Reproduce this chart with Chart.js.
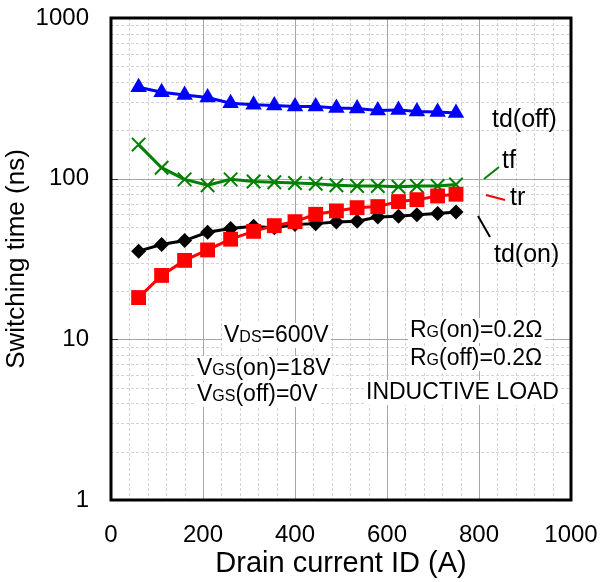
<!DOCTYPE html>
<html>
<head>
<meta charset="utf-8">
<script src="https://cdn.jsdelivr.net/npm/chart.js@4/dist/chart.umd.min.js"></script>
<style>
html,body{margin:0;padding:0;background:#fff;}
#wrap{width:602px;height:582px;position:relative;}
</style>
</head>
<body>
<div id="wrap"><canvas id="c" width="602" height="582"></canvas></div>
<script>
const drainCurrent = [60,110,160,210,260,310,355,400,445,490,535,580,625,665,710,750];
const tdOff = [371,345,332,320,295,288,285,281,281,275,273,266,268,262,260,256];
const tf    = [163,117,99,91,99,96,95,94,93,91,90,90,89,90,90,92];
const tr    = [18.2,25,31,36,42,47,51,54,60,63,66,67,72,74,78,80];
const tdOn  = [35.4,38.9,41.2,46.4,48.9,50.6,49.4,51.8,52.5,53.8,54.3,57.8,58.3,59.7,60.7,62.1];
const xTicks = [0,200,400,600,800,1000];
const yTicks = [1,10,100,1000];

const FONT = '"Liberation Sans", Arial, sans-serif';
const pts = (ys) => drainCurrent.map((x,i)=>({x:x,y:ys[i]}));

const gridPlugin = {
  id:'gridPlugin',
  beforeDatasetsDraw(chart){
    const {ctx, chartArea:a, scales:{x,y}} = chart;
    ctx.save();
    ctx.lineWidth = 1;
    for(let v=40; v<1000; v+=40){
      if(v%200===0) continue;
      const px = Math.round(x.getPixelForValue(v))+0.5;
      ctx.strokeStyle='#d4d4d4'; ctx.setLineDash([3,2]);
      ctx.beginPath(); ctx.moveTo(px,a.top); ctx.lineTo(px,a.bottom); ctx.stroke();
    }
    for(let d=1; d<1000; d*=10){
      for(let k=2;k<=9;k++){
        const py = Math.round(y.getPixelForValue(k*d))+0.5;
        ctx.strokeStyle='#d4d4d4'; ctx.setLineDash([3,2]);
        ctx.beginPath(); ctx.moveTo(a.left,py); ctx.lineTo(a.right,py); ctx.stroke();
      }
    }
    ctx.setLineDash([]);
    ctx.strokeStyle='#a6a6a6';
    for(let v=200; v<1000; v+=200){
      const px = Math.round(x.getPixelForValue(v))+0.5;
      ctx.beginPath(); ctx.moveTo(px,a.top); ctx.lineTo(px,a.bottom); ctx.stroke();
    }
    [10,100].forEach(v=>{
      const py = Math.round(y.getPixelForValue(v))+0.5;
      ctx.strokeStyle='#a6a6a6';
      ctx.beginPath(); ctx.moveTo(a.left,py); ctx.lineTo(a.right,py); ctx.stroke();
      ctx.strokeStyle='#333'; ctx.beginPath(); ctx.moveTo(a.left,py); ctx.lineTo(a.left+7,py); ctx.stroke();
    });
    ctx.restore();
  },
  afterDatasetsDraw(chart){
    const {ctx, chartArea:a} = chart;
    ctx.save();
    const rich = (x, base, parts) => {
      let w = 0;
      parts.forEach(p=>{ ctx.font = p[1]+'px '+FONT; w += ctx.measureText(p[0]).width; });
      ctx.fillStyle='#fff';
      ctx.fillRect(x-2, base-19, w+4, 25);
      let cx = x;
      ctx.fillStyle='#000'; ctx.textBaseline='alphabetic'; ctx.textAlign='left';
      parts.forEach(p=>{ ctx.font = p[1]+'px '+FONT; ctx.fillText(p[0], cx, base); cx += ctx.measureText(p[0]).width; });
    };
    rich(224, 342, [['V',23],['DS',16],['=600V',23]]);
    rich(197, 375, [['V',23],['GS',16],['(on)=18V',23]]);
    rich(197, 401, [['V',23],['GS',16],['(off)=0V',23]]);
    rich(410, 337, [['R',23],['G',16],['(on)=0.2\u03A9',23]]);
    rich(410, 365, [['R',23],['G',16],['(off)=0.2\u03A9',23]]);
    rich(366, 399, [['INDUCTIVE LOAD',23]]);

    ctx.lineWidth = 2;
    const lead = (c,x1,y1,x2,y2)=>{ ctx.strokeStyle=c; ctx.beginPath(); ctx.moveTo(x1,y1); ctx.lineTo(x2,y2); ctx.stroke(); };
    lead('#008000',484,179,499,167);
    lead('#ff0000',486,195,505,200);
    lead('#000000',478,216,490,237);
    ctx.fillStyle='#000'; ctx.font='25px '+FONT; ctx.textBaseline='middle'; ctx.textAlign='left';
    ctx.fillText('td(off)', 492, 120);
    ctx.fillText('tf', 502, 161);
    ctx.fillText('tr', 510, 198);
    ctx.fillText('td(on)', 494, 255);

    ctx.strokeStyle='#000'; ctx.lineWidth=3; ctx.setLineDash([]);
    ctx.strokeRect(a.left, a.top, a.right-a.left, a.bottom-a.top);
    ctx.restore();
  }
};

new Chart(document.getElementById('c'), {
  type:'line',
  data:{
    datasets:[
      {label:'tr', data:pts(tr), borderColor:'#ff0000', backgroundColor:'#ff0000', borderWidth:3, pointStyle:'rect', pointRadius:10.5, pointBorderWidth:0},
      {label:'td(on)', data:pts(tdOn), borderColor:'#000000', backgroundColor:'#000000', borderWidth:3, pointStyle:'rectRot', pointRadius:7.5, pointBorderWidth:0},
      {label:'tf', data:pts(tf), borderColor:'#008000', backgroundColor:'#008000', borderWidth:3, pointStyle:'crossRot', pointRadius:9.5, pointBorderWidth:2},
      {label:'td(off)', data:pts(tdOff), borderColor:'#0000ff', backgroundColor:'#0000ff', borderWidth:3, pointStyle:'triangle', pointRadius:9.5, pointBorderWidth:0}
    ]
  },
  options:{
    responsive:false,
    animation:false,
    devicePixelRatio:1,
    layout:{padding:{top:18,right:31,left:0,bottom:0}},
    plugins:{legend:{display:false}, tooltip:{enabled:false}},
    elements:{line:{tension:0}},
    scales:{
      x:{
        type:'linear', min:0, max:1000,
        grid:{display:false, drawTicks:false},
        border:{display:false},
        afterBuildTicks(s){ s.ticks = xTicks.map(v=>({value:v})); },
        afterFit(s){ s.height = 82; s.paddingLeft = 0; s.paddingRight = 0; },
        ticks:{color:'#000', font:{family:FONT,size:24}, padding:21, maxRotation:0, autoSkip:false, callback:(v)=>String(v)},
        title:{display:true, text:'Drain current ID (A)', color:'#000', font:{family:FONT,size:29}, padding:{top:0,bottom:1}}
      },
      y:{
        type:'logarithmic', min:1, max:1000,
        grid:{display:false, drawTicks:false},
        border:{display:false},
        afterBuildTicks(s){ s.ticks = yTicks.map(v=>({value:v})); },
        afterFit(s){ s.width = 111; s.paddingTop = 0; s.paddingBottom = 0; },
        ticks:{color:'#000', font:{family:FONT,size:24}, padding:22, callback:(v)=>String(v), autoSkip:false},
        title:{display:true, text:'Switching time (ns)', color:'#000', font:{family:FONT,size:26}, padding:{top:1,bottom:0}}
      }
    }
  },
  plugins:[gridPlugin]
});
</script>
</body>
</html>
